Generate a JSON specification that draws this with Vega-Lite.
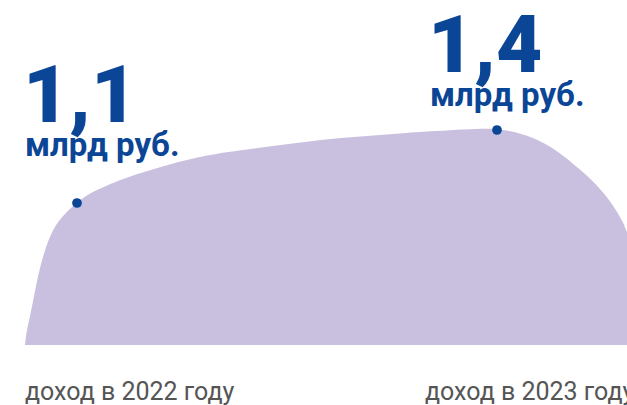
{
  "$schema": "https://vega.github.io/schema/vega-lite/v6.json",
  "width": 627,
  "height": 405,
  "autosize": {"type": "none"},
  "padding": 0,
  "background": "white",
  "config": {"view": {"stroke": null}, "text": {"font": "Roboto"}},
  "datasets": {
    "curve": [
      {"x": 25, "y": 60},
      {"x": 26, "y": 70},
      {"x": 28, "y": 80},
      {"x": 32, "y": 98},
      {"x": 37, "y": 125},
      {"x": 42, "y": 145},
      {"x": 48, "y": 165},
      {"x": 58, "y": 185},
      {"x": 77, "y": 203},
      {"x": 93, "y": 214},
      {"x": 127, "y": 228},
      {"x": 160, "y": 238},
      {"x": 193, "y": 247},
      {"x": 227, "y": 253},
      {"x": 280, "y": 260},
      {"x": 337, "y": 267},
      {"x": 403, "y": 272},
      {"x": 470, "y": 276},
      {"x": 497, "y": 277},
      {"x": 523, "y": 271},
      {"x": 543, "y": 263},
      {"x": 563, "y": 250},
      {"x": 583, "y": 233},
      {"x": 600, "y": 217},
      {"x": 613, "y": 200},
      {"x": 623, "y": 183},
      {"x": 627, "y": 173},
      {"x": 640, "y": 135}
    ],
    "points": [
      {"year": "2022", "x": 77, "y": 202, "value": "1,1", "unit": "млрд руб.", "caption": "доход в 2022 году"},
      {"year": "2023", "x": 497, "y": 275, "value": "1,4", "unit": "млрд руб.", "caption": "доход в 2023 году"}
    ]
  },
  "encoding": {
    "x": {"type": "quantitative", "scale": {"domain": [0, 627], "nice": false, "zero": false}, "axis": null},
    "y": {"type": "quantitative", "scale": {"domain": [0, 405], "nice": false, "zero": false}, "axis": null}
  },
  "layer": [
    {
      "data": {"name": "curve"},
      "mark": {"type": "area", "interpolate": "basis", "color": "#C9BFDF", "clip": true},
      "encoding": {"x": {"field": "x", "type": "quantitative"}, "y": {"field": "y", "type": "quantitative"}, "y2": {"datum": 60}}
    },
    {
      "data": {"name": "points"},
      "mark": {"type": "circle", "size": 95, "color": "#0B4596", "opacity": 1},
      "encoding": {"x": {"field": "x", "type": "quantitative"}, "y": {"field": "y", "type": "quantitative"}}
    },
    {
      "data": {"name": "points"},
      "transform": [{"filter": "datum.year === '2022'"}],
      "mark": {"type": "text", "align": "left", "baseline": "alphabetic", "fontSize": 80, "fontWeight": 900, "color": "#0B4596", "dx": -54, "dy": -81},
      "encoding": {"x": {"field": "x", "type": "quantitative"}, "y": {"field": "y", "type": "quantitative"}, "text": {"field": "value"}}
    },
    {
      "data": {"name": "points"},
      "transform": [{"filter": "datum.year === '2022'"}],
      "mark": {"type": "text", "align": "left", "baseline": "alphabetic", "fontSize": 33, "fontWeight": "bold", "color": "#0B4596", "dx": -52, "dy": -47},
      "encoding": {"x": {"field": "x", "type": "quantitative"}, "y": {"field": "y", "type": "quantitative"}, "text": {"field": "unit"}}
    },
    {
      "data": {"name": "points"},
      "transform": [{"filter": "datum.year === '2023'"}],
      "mark": {"type": "text", "align": "left", "baseline": "alphabetic", "fontSize": 80, "fontWeight": 900, "color": "#0B4596", "dx": -69, "dy": -58},
      "encoding": {"x": {"field": "x", "type": "quantitative"}, "y": {"field": "y", "type": "quantitative"}, "text": {"field": "value"}}
    },
    {
      "data": {"name": "points"},
      "transform": [{"filter": "datum.year === '2023'"}],
      "mark": {"type": "text", "align": "left", "baseline": "alphabetic", "fontSize": 33, "fontWeight": "bold", "color": "#0B4596", "dx": -67, "dy": -24},
      "encoding": {"x": {"field": "x", "type": "quantitative"}, "y": {"field": "y", "type": "quantitative"}, "text": {"field": "unit"}}
    },
    {
      "data": {"name": "points"},
      "transform": [{"filter": "datum.year === '2022'"}],
      "mark": {"type": "text", "align": "left", "baseline": "alphabetic", "fontSize": 25, "color": "#555555", "dx": -52},
      "encoding": {"x": {"field": "x", "type": "quantitative"}, "y": {"datum": 5}, "text": {"field": "caption"}}
    },
    {
      "data": {"name": "points"},
      "transform": [{"filter": "datum.year === '2023'"}],
      "mark": {"type": "text", "align": "left", "baseline": "alphabetic", "fontSize": 25, "color": "#555555", "dx": -72},
      "encoding": {"x": {"field": "x", "type": "quantitative"}, "y": {"datum": 5}, "text": {"field": "caption"}}
    }
  ]
}
